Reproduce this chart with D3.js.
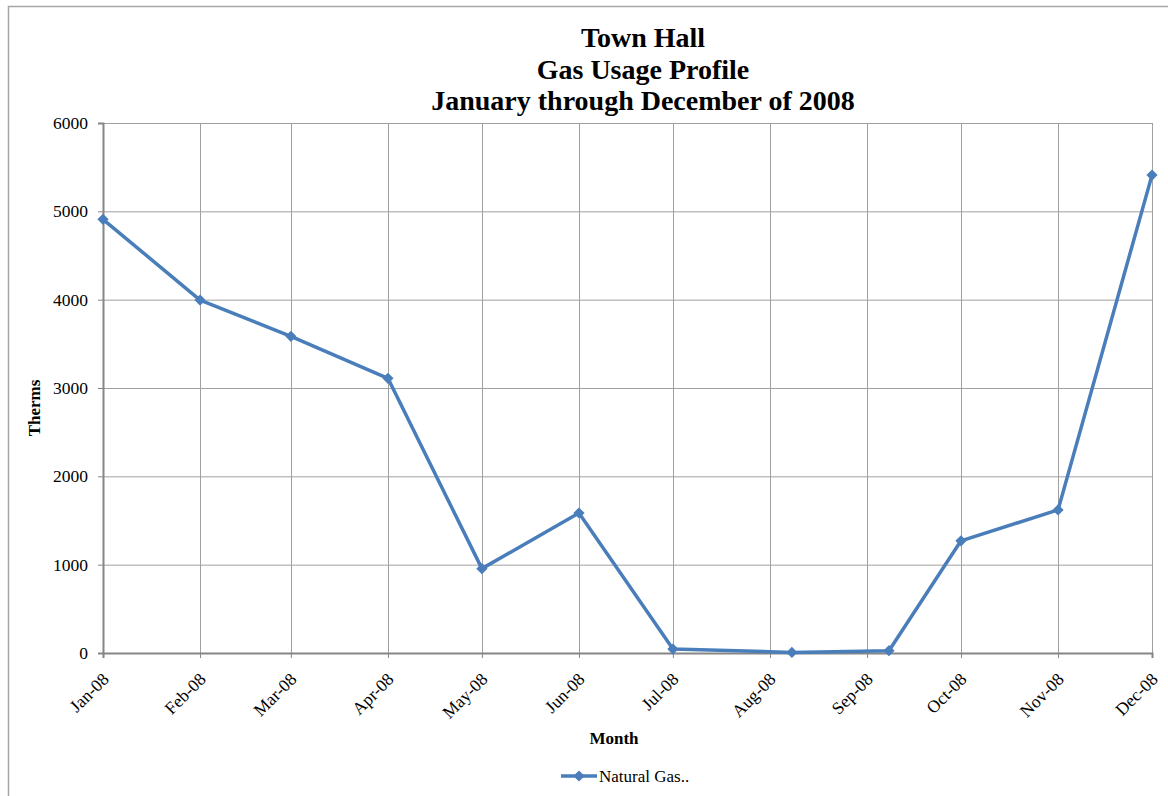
<!DOCTYPE html>
<html>
<head>
<meta charset="utf-8">
<script src="https://cdn.jsdelivr.net/npm/d3@7"></script>
<style>
  html, body { margin: 0; padding: 0; background: #fff; }
  svg { display: block; }
</style>
</head>
<body>
<svg id="chart" width="1168" height="796"></svg>
<script>
// Monthly meter read dates and gas usage in therms (2008)
const readDates = ["2008-01-01", "2008-02-01", "2008-03-01", "2008-04-01", "2008-05-01", "2008-06-01",
                   "2008-07-01", "2008-08-08", "2008-09-08", "2008-10-01", "2008-11-01", "2008-12-01"];
const therms = [4910, 3995, 3585, 3110, 955, 1585, 45, 7, 26, 1270, 1620, 5410];
const monthTicks = ["2008-01-01", "2008-02-01", "2008-03-01", "2008-04-01", "2008-05-01", "2008-06-01",
                    "2008-07-01", "2008-08-01", "2008-09-01", "2008-10-01", "2008-11-01", "2008-12-01"];
const yTicks = [0, 1000, 2000, 3000, 4000, 5000, 6000];
const titleLines = ["Town Hall", "Gas Usage Profile", "January through December of 2008"];
const seriesName = "Natural Gas..";

const parse = d3.utcParse("%Y-%m-%d");
const data = readDates.map((d, i) => ({ date: parse(d), value: therms[i] }));
const tickDates = monthTicks.map(parse);

const svg = d3.select("#chart");
const serif = "'Liberation Serif', 'Times New Roman', serif";
const blue = "#4a7ebb";

// Outer chart frame
svg.append("rect")
  .attr("x", 8.5).attr("y", 6.5)
  .attr("width", 1180).attr("height", 820)
  .attr("fill", "none").attr("stroke", "#a6a6a6").attr("stroke-width", 1.5);

const plot = { left: 103, right: 1152, top: 123, bottom: 653 };

const x = d3.scaleUtc()
  .domain([tickDates[0], tickDates[tickDates.length - 1]])
  .range([plot.left, plot.right]);
const y = d3.scaleLinear().domain([0, 6000]).range([plot.bottom, plot.top]);

// Horizontal gridlines
svg.append("g")
  .selectAll("line")
  .data(yTicks.filter(v => v > 0))
  .join("line")
  .attr("x1", plot.left).attr("x2", plot.right)
  .attr("y1", d => y(d) + 0.5).attr("y2", d => y(d) + 0.5)
  .attr("stroke", "#a0a0a0").attr("stroke-width", 1);

// Vertical gridlines
svg.append("g")
  .selectAll("line")
  .data(tickDates.slice(1))
  .join("line")
  .attr("x1", d => Math.round(x(d)) + 0.5).attr("x2", d => Math.round(x(d)) + 0.5)
  .attr("y1", plot.top).attr("y2", plot.bottom)
  .attr("stroke", "#a0a0a0").attr("stroke-width", 1);

// Y axis
const yAxis = svg.append("g")
  .attr("transform", `translate(${plot.left},0)`)
  .call(d3.axisLeft(y).tickValues(yTicks).tickSize(5).tickPadding(10).tickFormat(d3.format("d")));
yAxis.select(".domain").attr("stroke", "#868686").attr("stroke-width", 2);
yAxis.selectAll(".tick line").attr("stroke", "#868686");
yAxis.selectAll("text")
  .attr("font-family", serif).attr("font-size", 17.5).attr("fill", "#000");

// X axis
const xAxis = svg.append("g")
  .attr("transform", `translate(0,${plot.bottom})`)
  .call(d3.axisBottom(x).tickValues(tickDates).tickSize(5).tickFormat(d3.utcFormat("%b-%y")));
xAxis.select(".domain").attr("stroke", "#868686").attr("stroke-width", 2);
xAxis.selectAll(".tick line").attr("stroke", "#868686");
xAxis.selectAll("text")
  .attr("font-family", serif).attr("font-size", 17.5).attr("fill", "#000")
  .attr("text-anchor", "end")
  .attr("dy", "0.35em")
  .attr("transform", "translate(2,23) rotate(-45)")
  .attr("y", 0).attr("x", 0);

// Series line
const line = d3.line().x(d => x(d.date)).y(d => y(d.value));
svg.append("path")
  .datum(data)
  .attr("d", line)
  .attr("fill", "none")
  .attr("stroke", blue)
  .attr("stroke-width", 3.5)
  .attr("stroke-linejoin", "round");

// Diamond markers
const diamond = d3.symbol().type(d3.symbolDiamond2).size(80);
svg.append("g")
  .selectAll("path")
  .data(data)
  .join("path")
  .attr("d", diamond)
  .attr("transform", d => `translate(${x(d.date)},${y(d.value)})`)
  .attr("fill", blue);

// Title
svg.append("text")
  .attr("x", 643).attr("y", 47)
  .attr("text-anchor", "middle")
  .attr("font-family", serif).attr("font-weight", "bold").attr("font-size", 28)
  .selectAll("tspan")
  .data(titleLines)
  .join("tspan")
  .attr("x", 643)
  .attr("dy", (d, i) => i === 0 ? 0 : 31.5)
  .text(d => d);

// Axis titles
svg.append("text")
  .attr("transform", "translate(40,408) rotate(-90)")
  .attr("text-anchor", "middle")
  .attr("font-family", serif).attr("font-weight", "bold").attr("font-size", 17)
  .text("Therms");

svg.append("text")
  .attr("x", 614).attr("y", 744)
  .attr("text-anchor", "middle")
  .attr("font-family", serif).attr("font-weight", "bold").attr("font-size", 17)
  .text("Month");

// Legend
const legend = svg.append("g").attr("transform", "translate(561,776)");
legend.append("line")
  .attr("x1", 0).attr("x2", 36).attr("y1", 0).attr("y2", 0)
  .attr("stroke", blue).attr("stroke-width", 3.5);
legend.append("path")
  .attr("d", diamond)
  .attr("transform", "translate(18,0)")
  .attr("fill", blue);
legend.append("text")
  .attr("x", 38).attr("y", 6)
  .attr("font-family", serif).attr("font-size", 17)
  .text(seriesName);
</script>
</body>
</html>
